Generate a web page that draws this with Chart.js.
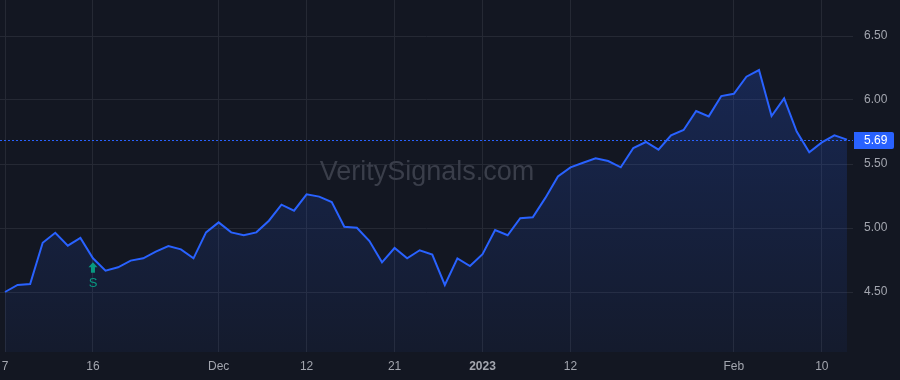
<!DOCTYPE html>
<html>
<head>
<meta charset="utf-8">
<script src="https://cdn.jsdelivr.net/npm/chart.js@4"></script>
<style>
  html, body { margin: 0; padding: 0; background: #131722; }
  #wrap { width: 900px; height: 380px; }
</style>
</head>
<body>
<div id="wrap"><canvas id="priceChart" width="900" height="380"></canvas></div>
<script>
// trading days, Nov 7 2022 -> Feb 14 2023
var dates = [
  '2022-11-07','2022-11-08','2022-11-09','2022-11-10','2022-11-11','2022-11-14','2022-11-15','2022-11-16',
  '2022-11-17','2022-11-18','2022-11-21','2022-11-22','2022-11-23','2022-11-25','2022-11-28','2022-11-29',
  '2022-11-30','2022-12-01','2022-12-02','2022-12-05','2022-12-06','2022-12-07','2022-12-08','2022-12-09',
  '2022-12-12','2022-12-13','2022-12-14','2022-12-15','2022-12-16','2022-12-19','2022-12-20','2022-12-21',
  '2022-12-22','2022-12-23','2022-12-27','2022-12-28','2022-12-29','2022-12-30','2023-01-03','2023-01-04',
  '2023-01-05','2023-01-06','2023-01-09','2023-01-10','2023-01-11','2023-01-12','2023-01-13','2023-01-17',
  '2023-01-18','2023-01-19','2023-01-20','2023-01-23','2023-01-24','2023-01-25','2023-01-26','2023-01-27',
  '2023-01-30','2023-01-31','2023-02-01','2023-02-02','2023-02-03','2023-02-06','2023-02-07','2023-02-08',
  '2023-02-09','2023-02-10','2023-02-13','2023-02-14'
];

var prices = [
  4.50, 4.555, 4.563, 4.885, 4.963, 4.862, 4.922, 4.763,
  4.667, 4.693, 4.745, 4.763, 4.815, 4.859, 4.833, 4.763,
  4.966, 5.044, 4.966, 4.943, 4.966, 5.057, 5.182, 5.135,
  5.263, 5.245, 5.203, 5.010, 5.002, 4.898, 4.732, 4.844,
  4.763, 4.826, 4.792, 4.555, 4.763, 4.703, 4.795, 4.984,
  4.943, 5.076, 5.084, 5.235, 5.403, 5.474, 5.510, 5.544,
  5.523, 5.474, 5.625, 5.672, 5.612, 5.724, 5.766, 5.914,
  5.872, 6.031, 6.049, 6.182, 6.234, 5.875, 6.013, 5.753,
  5.591, 5.669, 5.724, 5.69
];

var xTickDates = ['2022-11-07','2022-11-16','2022-12-01','2022-12-12','2022-12-21','2023-01-03','2023-01-12','2023-02-01','2023-02-10'];
var xTickLabels = ['7','16','Dec','12','21','2023','12','Feb','10'];
var yTicks = [4.50, 5.00, 5.50, 6.00, 6.50];

var lastPrice = 5.69;
var signalDates = ['2022-11-16'];
var signalLabels = ['S'];
var watermark = 'VeritySignals.com';

var FONT = 'Arial, "Liberation Sans", sans-serif';
var BLUE = '#2962ff';
var GREEN = '#089981';
var TEXT = '#a3a6af';
var GRID = '#252934';

var xTickIdx = xTickDates.map(function (d) { return dates.indexOf(d); });
var points = prices.map(function (p, i) { return { x: i, y: p }; });

// background + watermark, behind the line
var bgPlugin = {
  id: 'bg',
  beforeDraw: function (chart) {
    var c = chart.ctx;
    c.save();
    c.fillStyle = '#131722';
    c.fillRect(0, 0, chart.width, chart.height);
    c.restore();
  },
  beforeDatasetsDraw: function (chart) {
    var c = chart.ctx;
    c.save();
    c.font = '27px ' + FONT;
    c.fillStyle = '#3a3e4a';
    c.textAlign = 'center';
    c.textBaseline = 'middle';
    c.fillText(watermark, 427, 173);
    c.restore();
  }
};

// last price dotted line + label, signal markers
var overlayPlugin = {
  id: 'overlay',
  afterDatasetsDraw: function (chart) {
    var c = chart.ctx, a = chart.chartArea;
    var xs = chart.scales.x, ys = chart.scales.y;
    var py = Math.round(ys.getPixelForValue(lastPrice)) + 0.5;
    c.save();
    c.strokeStyle = BLUE;
    c.lineWidth = 1;
    c.setLineDash([2, 2]);
    c.beginPath();
    c.moveTo(a.left, py);
    c.lineTo(a.right, py);
    c.stroke();
    c.setLineDash([]);

    c.fillStyle = BLUE;
    c.beginPath();
    c.roundRect(a.right + 1, py - 8.5, 40, 17, [0, 2, 2, 0]);
    c.fill();
    c.fillStyle = '#ffffff';
    c.font = '12px ' + FONT;
    c.textAlign = 'left';
    c.textBaseline = 'middle';
    c.fillText(lastPrice.toFixed(2), a.right + 11, py + 0.5);

    signalDates.forEach(function (d, k) {
      var i = dates.indexOf(d);
      var x = xs.getPixelForValue(i);
      var y = ys.getPixelForValue(prices[i]) + 4;
      c.fillStyle = GREEN;
      c.beginPath();
      c.moveTo(x, y);
      c.lineTo(x + 4.5, y + 5);
      c.lineTo(x + 2, y + 5);
      c.lineTo(x + 2, y + 10.5);
      c.lineTo(x - 2, y + 10.5);
      c.lineTo(x - 2, y + 5);
      c.lineTo(x - 4.5, y + 5);
      c.closePath();
      c.fill();
      c.font = '13px ' + FONT;
      c.textAlign = 'center';
      c.textBaseline = 'middle';
      c.fillText(signalLabels[k], x, y + 21);
    });
    c.restore();
  }
};

function noPad(scale) {
  scale.paddingLeft = 0;
  scale.paddingRight = 0;
  scale.paddingTop = 0;
  scale.paddingBottom = 0;
}

var ctx = document.getElementById('priceChart');
var chart = new Chart(ctx, {
  type: 'line',
  data: {
    datasets: [{
      data: points,
      borderColor: BLUE,
      borderWidth: 2,
      pointRadius: 0,
      tension: 0,
      fill: 'start',
      backgroundColor: function (context) {
        var area = context.chart.chartArea;
        if (!area) return 'rgba(41,98,255,0.1)';
        var g = context.chart.ctx.createLinearGradient(0, 60, 0, area.bottom);
        g.addColorStop(0, 'rgba(41,98,255,0.22)');
        g.addColorStop(1, 'rgba(41,98,255,0.05)');
        return g;
      }
    }]
  },
  options: {
    responsive: false,
    animation: false,
    devicePixelRatio: 1,
    layout: { padding: 0 },
    plugins: { legend: { display: false }, tooltip: { enabled: false } },
    scales: {
      x: {
        type: 'linear',
        min: -0.398,
        max: 67.48,
        border: { display: false },
        grid: { color: GRID, drawTicks: false },
        afterBuildTicks: function (scale) {
          scale.ticks = xTickIdx.map(function (v) { return { value: v }; });
        },
        afterFit: function (scale) { scale.height = 28; noPad(scale); },
        ticks: {
          padding: 7,
          maxRotation: 0,
          autoSkip: false,
          color: TEXT,
          font: function (c) {
            return { family: FONT, size: 12, weight: c.index === 5 ? 'bold' : 'normal' };
          },
          callback: function (value, index) { return xTickLabels[index]; }
        }
      },
      y: {
        position: 'right',
        min: 4.03125,
        max: 6.78125,
        border: { display: false },
        grid: { color: GRID, drawTicks: false },
        afterBuildTicks: function (scale) {
          scale.ticks = yTicks.map(function (v) { return { value: v }; });
        },
        afterFit: function (scale) { scale.width = 47; noPad(scale); },
        ticks: {
          padding: 11,
          color: TEXT,
          font: { family: FONT, size: 12 },
          callback: function (value) { return value.toFixed(2); }
        }
      }
    }
  },
  plugins: [bgPlugin, overlayPlugin]
});
</script>
</body>
</html>
